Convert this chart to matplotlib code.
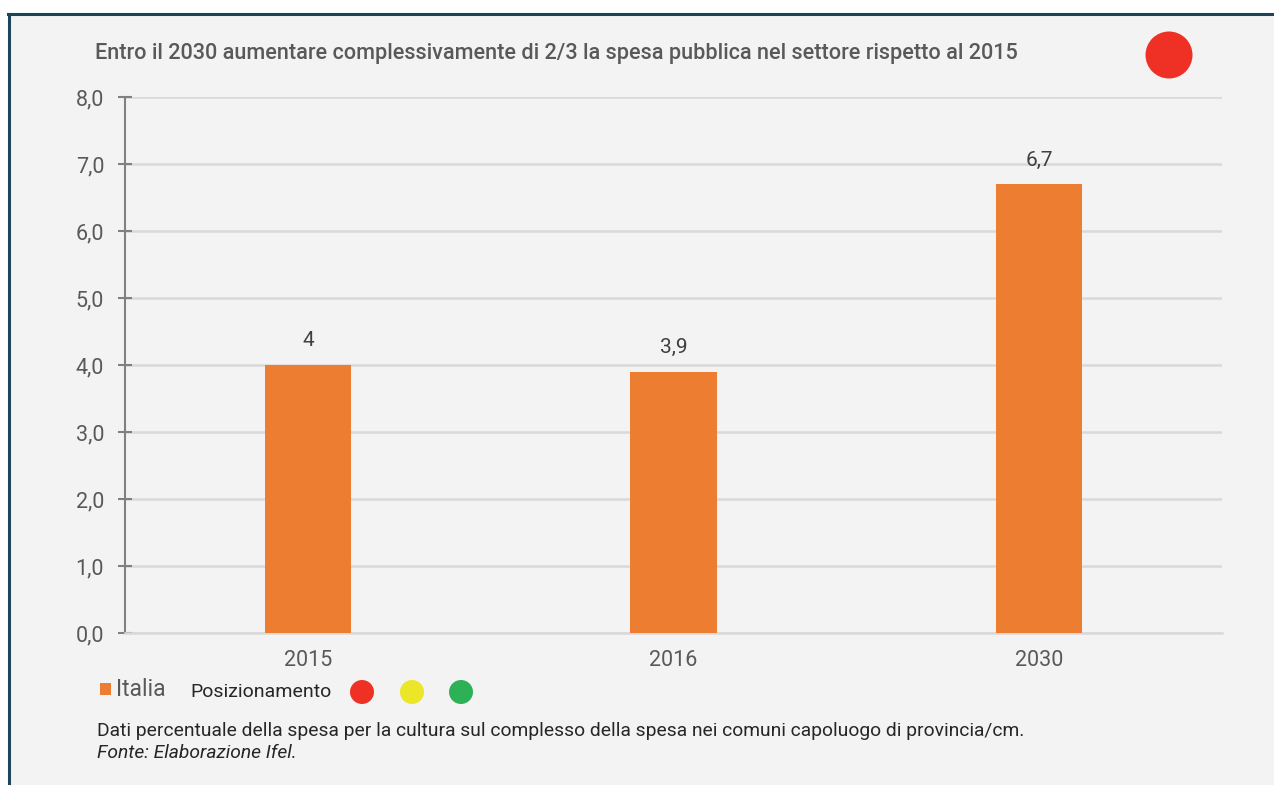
import matplotlib

matplotlib.use("Agg")
import matplotlib.pyplot as plt
from matplotlib.patches import Ellipse, Rectangle

categories = ["2015", "2016", "2030"]
values = [4.0, 3.9, 6.7]
value_labels = ["4", "3,9", "6,7"]
y_ticks = [0, 1, 2, 3, 4, 5, 6, 7, 8]
y_tick_labels = ["0,0", "1,0", "2,0", "3,0", "4,0", "5,0", "6,0", "7,0", "8,0"]
title = "Entro il 2030 aumentare complessivamente di 2/3 la spesa pubblica nel settore rispetto al 2015"
series_name = "Italia"
note = "Dati percentuale della spesa per la cultura sul complesso della spesa nei comuni capoluogo di provincia/cm."
source = "Fonte: Elaborazione Ifel."
status_colors = ["#ee3124", "#ebe627", "#2db157"]

W, H = 1274, 785
BG = "#f3f3f3"
BAR = "#ed7d31"
TXT = "#595959"

plt.rcParams["font.family"] = ["Roboto", "DejaVu Sans"]

fig = plt.figure(figsize=(W / 100, H / 100), dpi=100)
fig.patch.set_facecolor("white")


def fx(px):
    return px / W


def fy(py):
    return 1 - py / H


def dot(cx, cy, d, color):
    fig.patches.append(
        Ellipse((fx(cx), fy(cy)), d / W, d / H, transform=fig.transFigure, facecolor=color, edgecolor="none", zorder=1)
    )


# panel background + dark frame (top and left)
fig.patches.append(Rectangle((fx(9), 0), 1, fy(15), transform=fig.transFigure, facecolor=BG, edgecolor="none", zorder=0))
fig.lines.append(plt.Line2D([fx(8), 1], [fy(14), fy(14)], transform=fig.transFigure, color="#1d4457", lw=2.2))
fig.lines.append(plt.Line2D([fx(9), fx(9)], [0, fy(14)], transform=fig.transFigure, color="#1d4457", lw=2.2))

ax = fig.add_axes([fx(125), fy(633), fx(1222) - fx(125), fy(97) - fy(633)])
ax.set_zorder(5)
ax.set_facecolor(BG)
x = range(len(categories))
ax.bar(x, values, width=0.237, color=BAR, zorder=3, label=series_name)
for xi, v, lab in zip(x, values, value_labels):
    ax.annotate(lab, (xi, v), xytext=(0, 10.5), textcoords="offset points", ha="center", va="bottom", fontsize=15, color="#404040")

ax.set_xlim(-0.5, 2.5)
ax.set_ylim(0, 8)
ax.set_yticks(y_ticks)
ax.set_yticklabels(y_tick_labels)
ax.set_xticks(list(x))
ax.set_xticklabels(categories)
ax.grid(axis="y", color="#d9d9d9", lw=1.8, zorder=0)
ax.set_axisbelow(True)
for s in ["top", "right"]:
    ax.spines[s].set_visible(False)
ax.spines["bottom"].set_color("#d9d9d9")
ax.spines["bottom"].set_linewidth(1.8)
ax.spines["left"].set_color("#808080")
ax.spines["left"].set_linewidth(1.5)
ax.tick_params(axis="y", direction="inout", length=10, width=1.5, color="#808080", labelsize=15.5, labelcolor=TXT, pad=10)
ax.tick_params(axis="x", length=0, labelsize=15.5, labelcolor=TXT, pad=12)

fig.text(fx(95), fy(54), title, fontsize=15.6, fontweight="medium", color=TXT, va="center", ha="left")
dot(1169, 55, 47, status_colors[0])

# legend row
fig.patches.append(Rectangle((fx(100), fy(695)), 11 / W, 12 / H, transform=fig.transFigure, facecolor=BAR, edgecolor="none"))
fig.text(fx(116), fy(689), series_name, fontsize=16.5, color=TXT, va="center", ha="left")
fig.text(fx(190), fy(692), "Posizionamento", fontsize=14, color="#262626", va="center", ha="left")
for cx, c in zip([362, 412, 461], status_colors):
    dot(cx, 692, 24, c)

fig.text(fx(97), fy(731), note, fontsize=13.9, color="#262626", va="center", ha="left")
fig.text(fx(97), fy(753), source, fontsize=13.9, color="#262626", va="center", ha="left", style="italic")

fig.savefig("out.png", dpi=100)
